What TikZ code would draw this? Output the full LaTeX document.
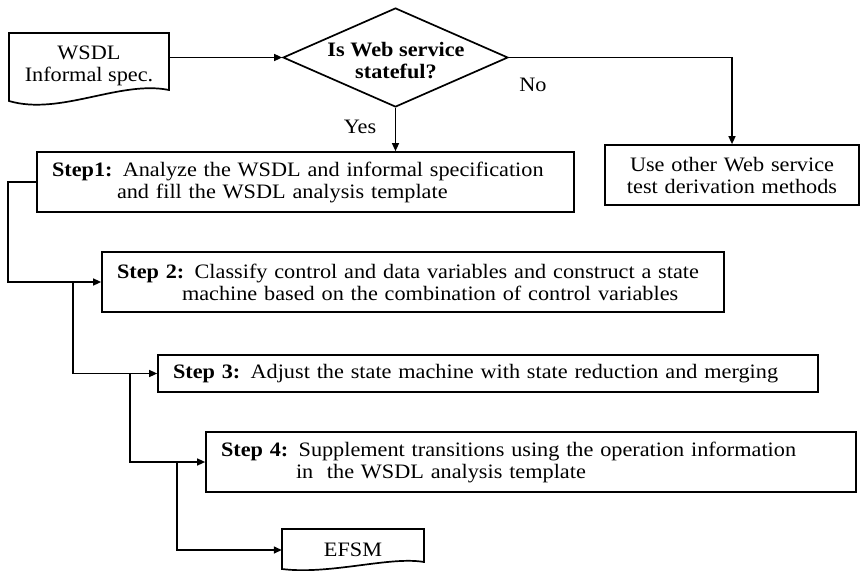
\documentclass[tikz,border=0pt]{standalone}
\usepackage{fontspec}
\setmainfont{Liberation Serif}[FakeStretch=1.085]
\usetikzlibrary{shapes.geometric,arrows.meta}
\begin{document}
\begin{tikzpicture}[x=1pt,y=-1pt,
  font=\fontsize{20.5}{22}\selectfont,
  stepbox/.style={draw, line width=1.7pt, inner xsep=15pt, inner ysep=0pt, align=left, minimum height=60pt},
  docbox/.style={line width=1.7pt},
  conn/.style={line width=1.4pt, -{Triangle[length=8pt,width=7pt]}},
  plain/.style={inner sep=0pt}]
\useasboundingbox (0,0) rectangle (861,570);

% document shapes
\draw[docbox] (9,101) -- (9,33) -- (169,33) -- (169,90) .. controls (120,80) and (60,116) .. (9,101) -- cycle;
\node[plain, align=center, minimum width=160pt] (wsdl) at (89,66) {WSDL\\Informal spec.};

\draw[docbox] (282,569) -- (282,529) -- (424,529) -- (424,562) .. controls (390,556) and (330,575) .. (282,569) -- cycle;
\node[plain, minimum width=142pt] (efsm) at (353,550) {EFSM};

% decision
\node[draw, diamond, line width=1.7pt, minimum width=225pt, minimum height=99pt, inner sep=0pt] (d) at (395.5,57.5) {};
\node[plain, align=center, font=\fontsize{20.5}{22}\selectfont\bfseries] (dq) at (396,61) {Is Web service\\stateful?};

% boxes
\node[stepbox, text width=224pt, align=center] (other) at (732,175) {Use other Web service\\test derivation methods};
\node[stepbox, text width=507pt] (s1) at (305.5,182) {\mbox{\textbf{Step1:} Analyze the WSDL and informal specification}\\\mbox{\hspace*{65pt}and fill the WSDL analysis template}};
\node[stepbox, text width=592pt] (s2) at (413,282) {\mbox{\textbf{Step 2:} Classify control and data variables and construct a state}\\\mbox{\hspace*{65pt}machine based on the combination of control variables}};
\node[stepbox, text width=630pt, minimum height=37pt] (s3) at (488,373.5) {\mbox{\textbf{Step 3:} Adjust the state machine with state reduction and merging}};
\node[stepbox, text width=620pt] (s4) at (531,462) {\mbox{\textbf{Step 4:} Supplement transitions using the operation information}\\\mbox{\hspace*{75pt}in\ \ the WSDL analysis template}};

% labels
\node[plain] (yes) at (360,127) {Yes};
\node[plain] (no) at (533,85) {No};

% connectors
\draw[conn] (wsdl.east |- d.west) -- (d.west);
\draw[conn] (d.east) -| (other.north);
\draw[conn] (d.south) -- (d.south |- s1.north);
\draw[conn] (s1.west) -- ++(-28,0) |- (s2.west);
\coordinate (j1) at (73,282);
\coordinate (j2) at (130,373.5);
\coordinate (j3) at (177,462);
\draw[conn] (j1) |- (s3.west);
\draw[conn] (j2) |- (s4.west);
\draw[conn] (j3) |- (efsm.west);
\end{tikzpicture}
\end{document}
